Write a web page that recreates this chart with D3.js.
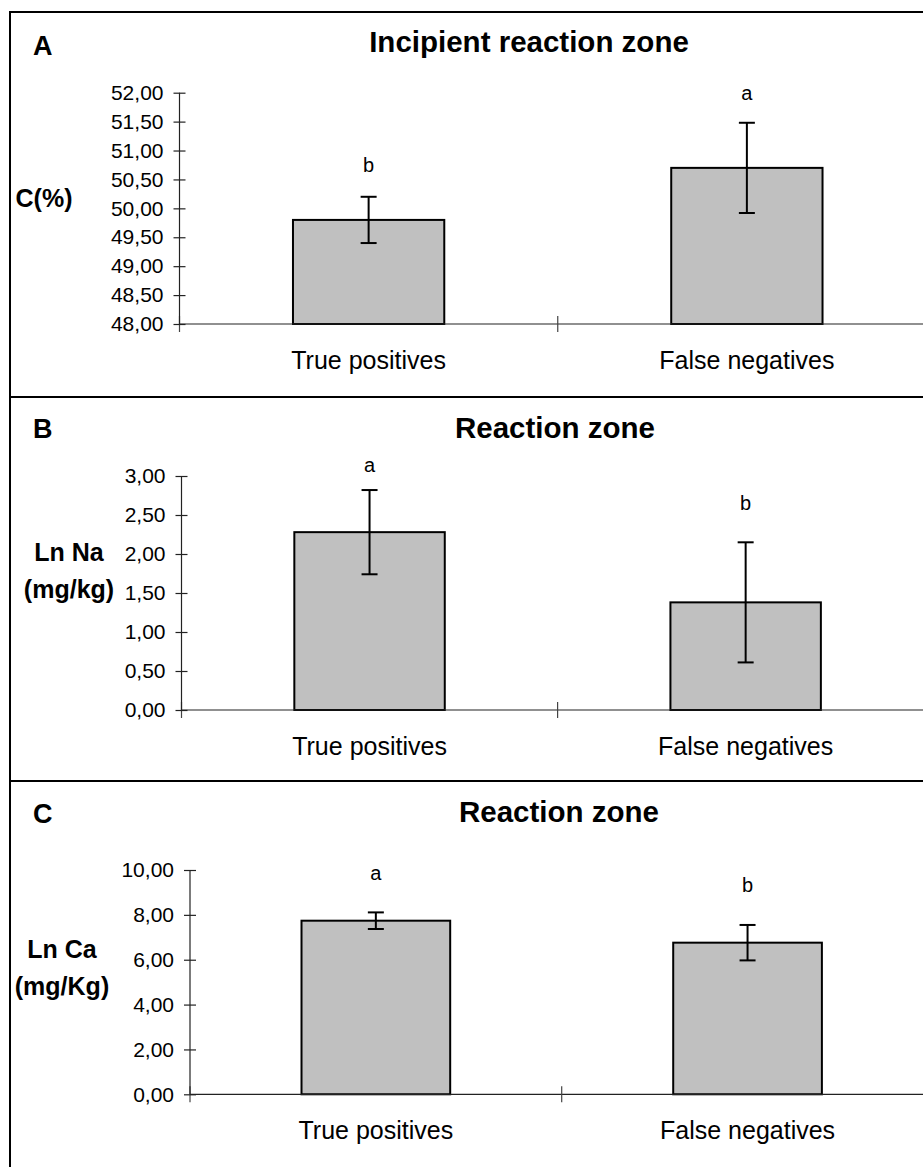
<!DOCTYPE html>
<html>
<head>
<meta charset="utf-8">
<script src="https://cdn.jsdelivr.net/npm/d3@7"></script>
<style>
  body { margin: 0; background: #fff; }
  svg { display: block; font-family: "Liberation Sans", Arial, sans-serif; }
</style>
</head>
<body>
<svg id="svg" width="923" height="1167"></svg>
<script>
// data
const categories = ['True positives', 'False negatives']
const panelIds = ['A', 'B', 'C']
const titles = ['Incipient reaction zone', 'Reaction zone', 'Reaction zone']
const yLabels = [['C(%)'], ['Ln Na', '(mg/kg)'], ['Ln Ca', '(mg/Kg)']]

const carbonMean = [49.80, 50.70]
const carbonErr = [0.40, 0.78]
const sodiumMean = [2.28, 1.38]
const sodiumErr = [0.54, 0.77]
const calciumMean = [7.74, 6.76]
const calciumErr = [0.37, 0.79]

const carbonLetters = ['b', 'a']
const sodiumLetters = ['a', 'b']
const calciumLetters = ['a', 'b']
// where the significance letters sit, in axis units
const carbonLetterAt = [50.63, 51.87]
const sodiumLetterAt = [3.05, 2.56]
const calciumLetterAt = [9.55, 9.03]

const carbonTicks = [48, 48.5, 49, 49.5, 50, 50.5, 51, 51.5, 52]
const sodiumTicks = [0, 0.5, 1, 1.5, 2, 2.5, 3]
const calciumTicks = [0, 2, 4, 6, 8, 10]

const panels = [
    { mean: carbonMean, err: carbonErr, letters: carbonLetters, letterAt: carbonLetterAt,
      ticks: carbonTicks, domain: [48, 52],
      top: 12, left: 179.5, right: 936, y0: 92.7, y1: 324,
      titleX: 529, titleY: 52, idY: 55, labX: 44, labY: [207] },
    { mean: sodiumMean, err: sodiumErr, letters: sodiumLetters, letterAt: sodiumLetterAt,
      ticks: sodiumTicks, domain: [0, 3],
      top: 397, left: 181.5, right: 933.7, y0: 476, y1: 710,
      titleX: 555, titleY: 438, idY: 438, labX: 69, labY: [561, 598] },
    { mean: calciumMean, err: calciumErr, letters: calciumLetters, letterAt: calciumLetterAt,
      ticks: calciumTicks, domain: [0, 10],
      top: 781, left: 190, right: 933.4, y0: 870, y1: 1094.3,
      titleX: 559, titleY: 822, idY: 823, labX: 62, labY: [958, 995] }
]

const svg = d3.select('#svg')
const fmt = (d) => d3.format('.2f')(d).replace('.', ',')

// frame
svg.append('line')
    .attr('x1', 10).attr('x2', 10).attr('y1', 11).attr('y2', 1167)
    .attr('stroke', '#000').attr('stroke-width', 2)
svg.selectAll('line.sep')
    .data(panels)
    .enter()
    .append('line')
    .attr('class', 'sep')
    .attr('x1', 9).attr('x2', 923)
    .attr('y1', (d) => d.top).attr('y2', (d) => d.top)
    .attr('stroke', '#000').attr('stroke-width', 2)

panels.forEach((p, k) => {
    const g = svg.append('g')

    const x = d3.scaleBand()
        .domain(categories)
        .range([p.left, p.right])
        .paddingInner(0.6)
        .paddingOuter(0.3)
    const y = d3.scaleLinear()
        .domain(p.domain)
        .range([p.y1, p.y0])

    // panel letter and title
    g.append('text')
        .attr('x', 33).attr('y', p.idY)
        .attr('font-size', 27).attr('font-weight', 'bold')
        .text(panelIds[k])
    g.append('text')
        .attr('x', p.titleX).attr('y', p.titleY)
        .attr('text-anchor', 'middle')
        .attr('font-size', 29.5).attr('font-weight', 'bold')
        .text(titles[k])

    // y label
    g.append('text')
        .attr('text-anchor', 'middle')
        .attr('font-size', 25).attr('font-weight', 'bold')
        .selectAll('tspan')
        .data(yLabels[k])
        .enter()
        .append('tspan')
        .attr('x', p.labX)
        .attr('y', (d, i) => p.labY[i])
        .text((d) => d)

    // bars
    g.selectAll('rect')
        .data(p.mean)
        .enter()
        .append('rect')
        .attr('x', (d, i) => x(categories[i]))
        .attr('y', (d) => y(d))
        .attr('width', x.bandwidth())
        .attr('height', (d) => y(p.domain[0]) - y(d))
        .attr('fill', '#c0c0c0')
        .attr('stroke', '#000')
        .attr('stroke-width', 2)

    // x axis line and category boundary ticks
    g.append('line')
        .attr('x1', p.left).attr('x2', p.right)
        .attr('y1', y(p.domain[0])).attr('y2', y(p.domain[0]))
        .attr('stroke', '#222').attr('stroke-width', 1.2)
    g.selectAll('line.bound')
        .data(d3.range(categories.length + 1))
        .enter()
        .append('line')
        .attr('class', 'bound')
        .attr('x1', (i) => p.left + i * x.step())
        .attr('x2', (i) => p.left + i * x.step())
        .attr('y1', y(p.domain[0]) - 8)
        .attr('y2', y(p.domain[0]) + 8)
        .attr('stroke', '#444').attr('stroke-width', 1.2)

    // category labels
    const xa = g.append('g')
        .attr('transform', `translate(0,${y(p.domain[0])})`)
        .call(d3.axisBottom(x).tickSize(0))
    xa.select('.domain').remove()
    xa.selectAll('text')
        .attr('dy', null)
        .attr('y', 45)
        .attr('font-size', 25)
        .attr('font-family', '"Liberation Sans", Arial, sans-serif')
        .attr('fill', '#000')

    // y axis
    const ya = g.append('g')
        .attr('transform', `translate(${p.left},0)`)
        .call(d3.axisLeft(y).tickValues(p.ticks).tickFormat(fmt).tickSize(6).tickPadding(10))
    ya.select('.domain').attr('stroke', '#222').attr('stroke-width', 1.2)
        .attr('d', `M0,${p.y0}V${y(p.domain[0])}`)
    ya.selectAll('.tick line').attr('x1', 6).attr('stroke', '#222').attr('stroke-width', 1.2)
    ya.selectAll('text')
        .attr('font-size', 21)
        .attr('font-family', '"Liberation Sans", Arial, sans-serif')
        .attr('fill', '#000')

    // error bars
    const cx = (i) => x(categories[i]) + x.bandwidth() / 2
    const eb = g.selectAll('g.err')
        .data(p.mean)
        .enter()
        .append('g')
        .attr('class', 'err')
        .attr('stroke', '#000')
        .attr('stroke-width', 2)
    eb.append('line')
        .attr('x1', (d, i) => cx(i)).attr('x2', (d, i) => cx(i))
        .attr('y1', (d, i) => y(d + p.err[i])).attr('y2', (d, i) => y(d - p.err[i]))
    eb.append('line')
        .attr('x1', (d, i) => cx(i) - 8).attr('x2', (d, i) => cx(i) + 8)
        .attr('y1', (d, i) => y(d + p.err[i])).attr('y2', (d, i) => y(d + p.err[i]))
    eb.append('line')
        .attr('x1', (d, i) => cx(i) - 8).attr('x2', (d, i) => cx(i) + 8)
        .attr('y1', (d, i) => y(d - p.err[i])).attr('y2', (d, i) => y(d - p.err[i]))

    // significance letters
    g.selectAll('text.sig')
        .data(p.letters)
        .enter()
        .append('text')
        .attr('class', 'sig')
        .attr('x', (d, i) => cx(i))
        .attr('y', (d, i) => y(p.letterAt[i]))
        .attr('text-anchor', 'middle')
        .attr('font-size', 20)
        .text((d) => d)
})
</script>
</body>
</html>
